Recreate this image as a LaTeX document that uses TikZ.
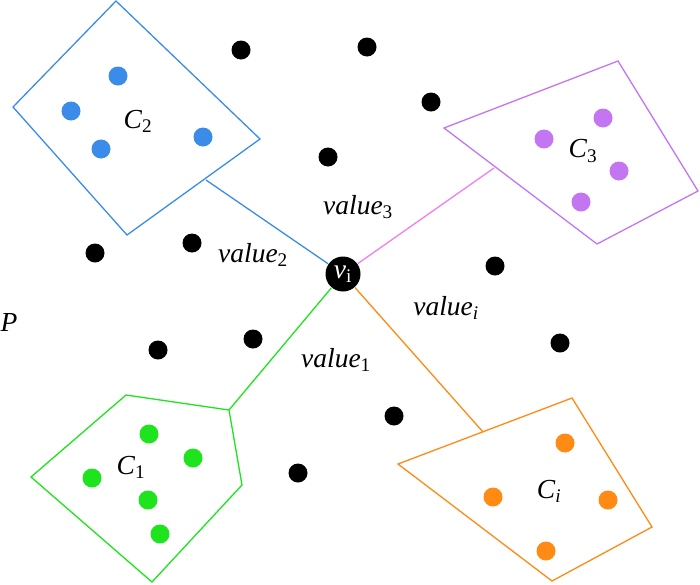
\documentclass[tikz,border=0pt]{standalone}
\usepackage{fontspec}
\setmainfont{Liberation Serif}
\usepackage{tikz}
\usetikzlibrary{positioning}
\definecolor{cblue}{RGB}{58,140,232}
\definecolor{cpurple}{RGB}{196,118,242}
\definecolor{cpink}{RGB}{242,125,240}
\definecolor{cgreen}{RGB}{30,228,30}
\definecolor{corange}{RGB}{255,138,20}
\newcommand{\val}[1]{\textit{value}\textsubscript{#1}}

\begin{document}
\begin{tikzpicture}[x=1pt, y=-1pt, line width=1.3pt,
    dot/.style={circle, fill=#1, inner sep=0pt, minimum size=19pt},
    dot/.default=black,
    lab/.style={font=\fontsize{27.5}{32}\selectfont}]
     \useasboundingbox (0,0) rectangle (700,584);
     % centre point
     \node[circle, fill=black, inner sep=0pt, minimum size=35pt, text=white, lab] (vi) at (343,274) {\textit{v}\textsubscript{i}};
     % black points
     \foreach \x/\y [count=\n] in {241/50, 367/47, 431/102, 328/157, 192/243, 95/253,
                                   495/266, 158/350, 253/339, 560/343, 394/416, 298/473}
       \node[dot] (p\n) at (\x,\y) {};
     % cluster C_2
     \draw[cblue] (116,1) -- (260,139) -- (127,235) -- (13,107) -- cycle;
     \coordinate (c2) at (206,180);
     \foreach \x/\y in {118/76, 71/111, 101/149, 203/137} \node[dot=cblue] at (\x,\y) {};
     \node[lab] (lc2) at (138,121) {\textit{C}\textsubscript{2}};
     % cluster C_3
     \draw[cpurple] (444,128) -- (618,61) -- (698,191) -- (597,244) -- cycle;
     \coordinate (c3) at (494,168);
     \foreach \x/\y in {603/118, 544/139, 619/171, 581/202} \node[dot=cpurple] at (\x,\y) {};
     \node[lab] (lc3) at (583,151) {\textit{C}\textsubscript{3}};
     % cluster C_1
     \draw[cgreen] (126,395) -- (229,410) -- (242,485) -- (152,582) -- (31,477) -- cycle;
     \coordinate (c1) at (229,410);
     \foreach \x/\y in {149/434, 193/458, 92/478, 148/500, 160/534} \node[dot=cgreen] at (\x,\y) {};
     \node[lab] (lc1) at (131,467) {\textit{C}\textsubscript{1}};
     % cluster C_i
     \draw[corange] (398,464) -- (572,398) -- (652,527) -- (552,581) -- cycle;
     \coordinate (ci) at (483,432);
     \foreach \x/\y in {565/443, 493/497, 608/500, 546/551} \node[dot=corange] at (\x,\y) {};
     \node[lab] (lci) at (549,491) {\textit{C}\textsubscript{\textit{i}}};
     % links
     \draw[cblue] (c2) -- (vi);
     \draw[cpink] (c3) -- (vi);
     \draw[cgreen] (c1) -- (vi);
     \draw[corange] (ci) -- (vi);
     \node[lab] (v2) at (253,255) {\val{2}};
     \node[lab] (v3) at (358,207) {\val{3}};
     \node[lab] (v1) at (336,360) {\val{1}};
     \node[lab] (vv) at (446,308) {\val{\textit{i}}};
     \node[lab] (P) at (9,322) {\textit{P}};
  \end{tikzpicture}
\end{document}
